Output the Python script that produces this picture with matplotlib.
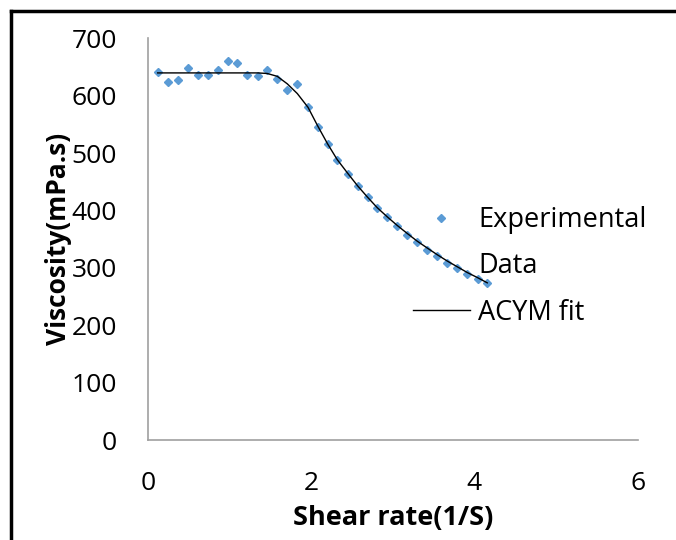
import matplotlib
matplotlib.use("Agg")
import matplotlib.pyplot as plt
from matplotlib.lines import Line2D

plt.rcParams['font.family'] = ['Open Sans', 'DejaVu Sans']

shear_rate = [0.122, 0.245, 0.367, 0.490, 0.612, 0.735, 0.857, 0.980, 1.097, 1.220,
              1.347, 1.464, 1.587, 1.709, 1.832, 1.963, 2.080, 2.204, 2.320, 2.449,
              2.571, 2.694, 2.811, 2.934, 3.056, 3.179, 3.297, 3.420, 3.546, 3.668,
              3.791, 3.913, 4.040, 4.158]
viscosity_exp = [641, 625, 627, 649, 636, 636, 645, 661, 658, 637,
                 634, 645, 629, 611, 620, 581, 546, 516, 489, 464,
                 442, 423, 404, 388, 373, 358, 345, 332, 320, 309,
                 300, 290, 281, 273]
viscosity_fit = [640, 640, 640, 640, 640, 640, 640, 640, 640, 640,
                 640, 639, 634, 621, 604, 580, 548, 516, 489, 465,
                 443, 423, 405, 389, 374, 360, 347, 335, 323, 312,
                 302, 292, 283, 274]

x_ticks = [0, 2, 4, 6]
y_ticks = [0, 100, 200, 300, 400, 500, 600, 700]

W, H = 676, 540
fig = plt.figure(figsize=(W / 100, H / 100), dpi=100)
ax = fig.add_axes([147.7 / W, 1 - 440 / H, (637.7 - 147.7) / W, (440 - 38.5) / H])

blue = '#5B9BD5'
ax.plot(shear_rate, viscosity_exp, linestyle='none', marker='D', markersize=4.5,
        color=blue, label='Experimental')
ax.plot(shear_rate, viscosity_fit, color='black', linewidth=1.0, label='ACYM fit')

ax.set_xlim(0, 6)
ax.set_ylim(0, 700)
ax.set_xticks(x_ticks)
ax.set_yticks(y_ticks)
ax.tick_params(length=0, labelsize=19, colors='black')
ax.tick_params(axis='x', pad=22)
ax.tick_params(axis='y', pad=22)
for s in ['top', 'right']:
    ax.spines[s].set_visible(False)
for s in ['left', 'bottom']:
    ax.spines[s].set_color('#a0a0a0')
    ax.spines[s].set_linewidth(1.2)

ax.set_xlabel('Shear rate(1/S)', fontsize=19.5, fontweight='bold', labelpad=7)
ax.set_ylabel('Viscosity(mPa.s)', fontsize=19, fontweight='bold', labelpad=0)

handles = [
    Line2D([], [], linestyle='none', marker='D', markersize=4.5, color=blue),
    Line2D([], [], linestyle='none'),
    Line2D([], [], color='black', linewidth=1.0),
]
labels = ['Experimental', 'Data', 'ACYM fit']
leg = ax.legend(handles, labels, loc='upper left',
                bbox_to_anchor=(413 / W, 1 - 206 / H), bbox_transform=fig.transFigure,
                frameon=False, fontsize=19.5, handlelength=2.1, handletextpad=0.3,
                borderpad=0, borderaxespad=0, labelspacing=0.68)

# outer frame (left and top only)
fig.add_artist(Line2D([11 / W, 11 / W], [0, 1 - 11 / H], transform=fig.transFigure,
                      color='black', linewidth=2.5))
fig.add_artist(Line2D([11 / W, 1], [1 - 11 / H, 1 - 11 / H], transform=fig.transFigure,
                      color='black', linewidth=2.5))

fig.savefig('out.png', dpi=100)
